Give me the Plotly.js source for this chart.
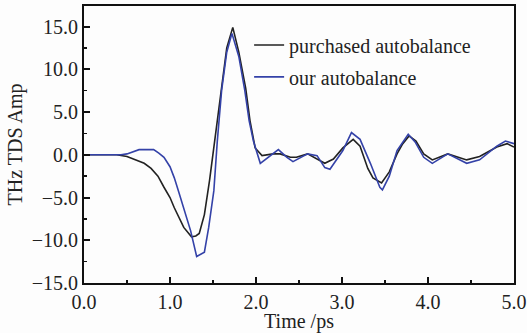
<!DOCTYPE html>
<html>
<head>
<meta charset="utf-8">
<script src="https://cdn.plot.ly/plotly-3.0.1.min.js"></script>
<style>html,body{margin:0;padding:0;background:#fff;}#chart{width:527px;height:333px;}</style>
</head>
<body>
<div id="chart"></div>
<script>
// Time axis (ps) and amplitudes
const timePurchased = [0, 0.38, 0.5, 0.58, 0.7, 0.78, 0.86, 0.93, 1.0, 1.05, 1.1, 1.16, 1.25, 1.3, 1.34, 1.4, 1.46, 1.52, 1.6, 1.66, 1.73, 1.8, 1.88, 1.93, 1.99, 2.07, 2.2, 2.28, 2.4, 2.47, 2.6, 2.71, 2.8, 2.9, 3.01, 3.13, 3.21, 3.3, 3.36, 3.46, 3.55, 3.64, 3.7, 3.78, 3.86, 3.95, 4.05, 4.23, 4.45, 4.6, 4.8, 4.92, 5.0];
const ampPurchased = [0, 0, -0.2, -0.5, -1.0, -1.6, -2.5, -3.8, -5.0, -6.2, -7.3, -8.5, -9.6, -9.5, -9.2, -7.0, -3.0, 1.6, 7.8, 12.5, 14.9, 12.0, 7.8, 4.0, 0.8, -0.1, 0.1, 0.1, -0.3, -0.3, 0.1, -0.5, -1.0, -0.5, 0.8, 1.8, 1.0, -1.6, -2.7, -3.3, -2.0, 0.1, 1.2, 2.2, 1.6, 0.1, -0.6, 0.1, -0.6, -0.2, 0.9, 1.3, 0.9];

const timeOurs = [0, 0.43, 0.5, 0.56, 0.64, 0.75, 0.81, 0.87, 0.93, 1.0, 1.05, 1.1, 1.16, 1.24, 1.31, 1.4, 1.45, 1.51, 1.55, 1.6, 1.66, 1.72, 1.8, 1.87, 1.92, 1.97, 2.05, 2.14, 2.26, 2.36, 2.43, 2.6, 2.71, 2.8, 2.86, 3.01, 3.11, 3.21, 3.33, 3.44, 3.47, 3.55, 3.64, 3.77, 3.85, 3.95, 4.05, 4.23, 4.45, 4.6, 4.8, 4.9, 5.0];
const ampOurs = [0, 0, 0.1, 0.3, 0.6, 0.6, 0.6, 0.2, -0.3, -1.4, -2.7, -4.3, -6.2, -8.9, -11.9, -11.4, -8.5, -4.2, 1.6, 7.5, 12.0, 14.2, 11.5, 7.5, 4.0, 1.6, -1.0, -0.3, 0.6, -0.3, -0.8, 0.1, -0.1, -1.5, -1.7, 0.5, 2.6, 1.8, -1.0, -3.8, -4.1, -2.5, 0.5, 2.4, 1.5, -0.3, -1.0, 0.1, -1.0, -0.6, 1.0, 1.6, 1.3];

const seriesNames = ['purchased autobalance', 'our autobalance'];
const xTicks = [0, 1, 2, 3, 4, 5];
const yTicks = [-15, -10, -5, 0, 5, 10, 15];

const font = {family: '"Liberation Serif", "DejaVu Serif", serif', size: 20, color: '#222'};

const traces = [
  {x: timePurchased, y: ampPurchased, name: seriesNames[0], mode: 'lines',
   line: {color: '#222222', width: 1.6}, legend: 'legend'},
  {x: timeOurs, y: ampOurs, name: seriesNames[1], mode: 'lines',
   line: {color: '#3442a8', width: 1.6}, legend: 'legend2'}
];

const axisCommon = {
  showline: true, linewidth: 2, linecolor: '#111', mirror: true,
  ticks: 'inside', ticklen: 6, tickwidth: 2, tickcolor: '#111',
  showgrid: false, zeroline: false, tickformat: '.1f',
  tickfont: font
};

const layout = {
  width: 527, height: 333,
  margin: {l: 84, r: 13, t: 6, b: 50},
  paper_bgcolor: '#fdfdfd', plot_bgcolor: '#fdfdfd',
  font: font,
  xaxis: Object.assign({}, axisCommon, {
    range: [0, 5], tickvals: xTicks,
    minor: {dtick: 0.5, ticks: 'inside', ticklen: 3, tickwidth: 1.5, tickcolor: '#111'},
    title: {text: 'Time /ps', font: font, standoff: 0}
  }),
  yaxis: Object.assign({}, axisCommon, {
    range: [-15, 17.4], tickvals: yTicks,
    minor: {dtick: 2.5, ticks: 'inside', ticklen: 3, tickwidth: 1.5, tickcolor: '#111'},
    title: {text: 'THz TDS Amp', font: font, standoff: 4}
  }),
  showlegend: true,
  legend: {x: 0.384, y: 0.859, xanchor: 'left', yanchor: 'middle', bgcolor: 'rgba(0,0,0,0)', font: font},
  legend2: {x: 0.384, y: 0.744, xanchor: 'left', yanchor: 'middle', bgcolor: 'rgba(0,0,0,0)', font: font}
};

Plotly.newPlot('chart', traces, layout, {displayModeBar: false, staticPlot: true});
</script>
</body>
</html>
